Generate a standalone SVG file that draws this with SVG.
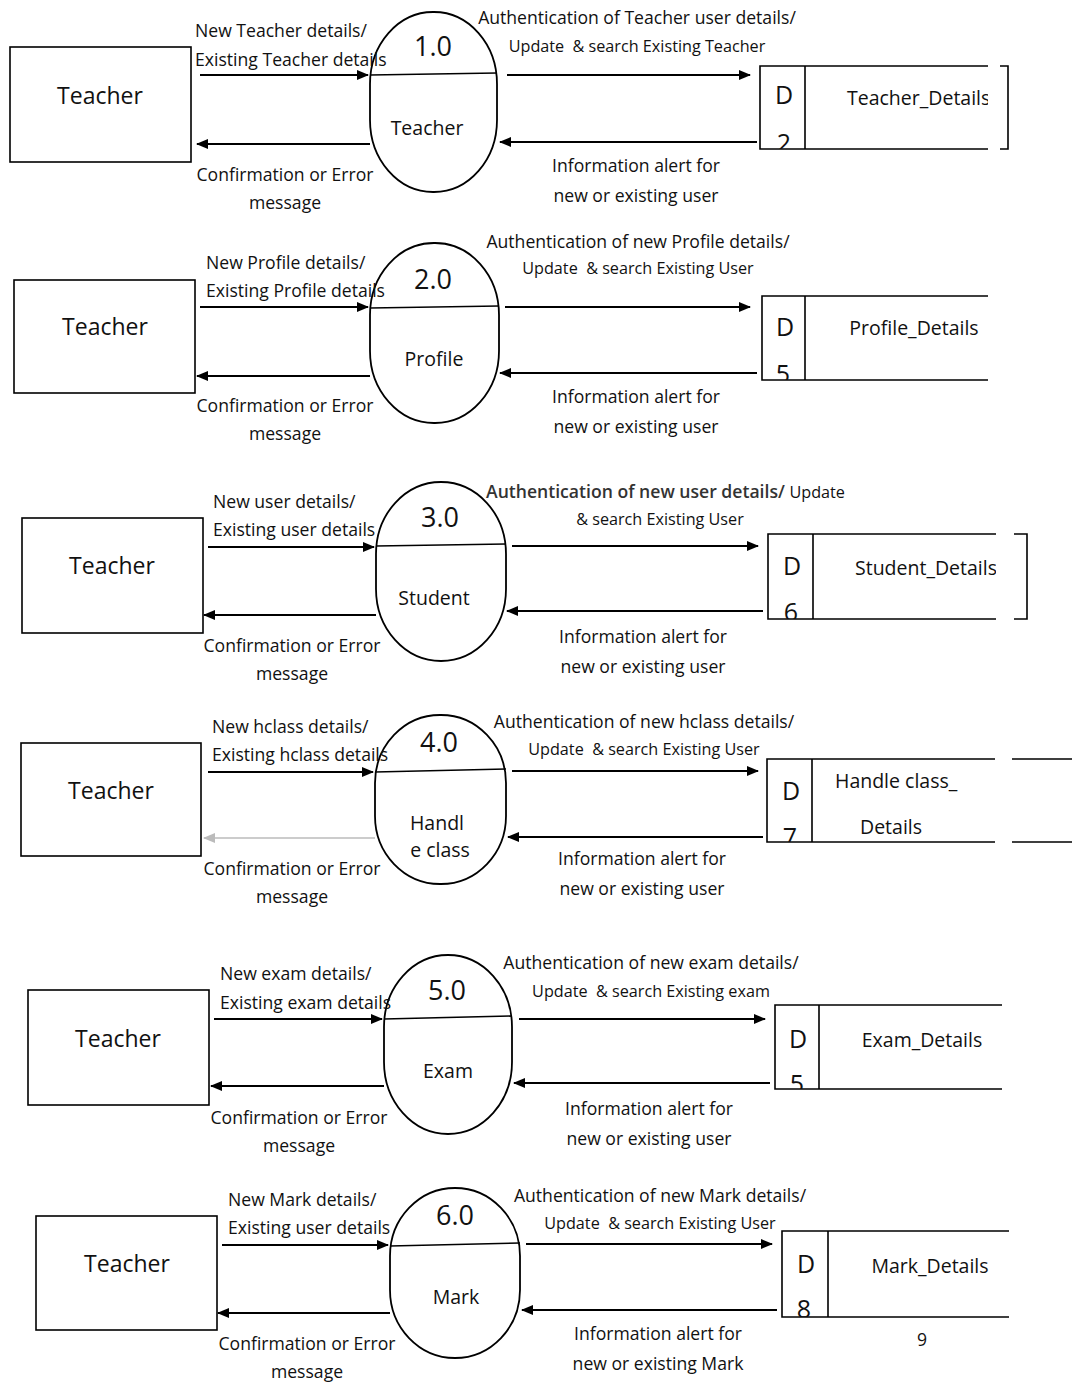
<svg xmlns="http://www.w3.org/2000/svg" width="1072" height="1382" viewBox="0 0 1072 1382">
<style>
text{font-family:"Open Sans",Lato,"Liberation Sans",sans-serif;fill:#111}
.ent{fill:#fff;stroke:#000;stroke-width:1.6}
.proc{fill:#fff;stroke:#000;stroke-width:1.8}
.ln{fill:none;stroke:#000;stroke-width:1.6}
.fl{fill:none;stroke:#000;stroke-width:1.8;marker-end:url(#ah)}
.faint{fill:none;stroke:#bbb;stroke-width:1.4;marker-end:url(#ahg)}
.en{font-size:23px;text-anchor:middle}
.lb{font-size:17.6px}
.lc{font-size:17.6px;text-anchor:middle}
.ls{font-size:16.2px;text-anchor:middle;white-space:pre}
.num{font-size:27px;text-anchor:middle}
.pn{font-size:19.5px;text-anchor:middle}
.d{font-size:25px;text-anchor:middle}
.sn{font-size:19.5px}
</style>
<defs>
<marker id="ah" markerWidth="12" markerHeight="10" refX="11" refY="5" orient="auto" markerUnits="userSpaceOnUse"><path d="M0,0 L12,5 L0,10 z" fill="#000"/></marker>
<marker id="ahg" markerWidth="12" markerHeight="10" refX="11" refY="5" orient="auto" markerUnits="userSpaceOnUse"><path d="M0,0 L12,5 L0,10 z" fill="#bbb"/></marker>
<clipPath id="c1"><rect x="760" y="60" width="228" height="89"/></clipPath>
<clipPath id="c2"><rect x="762" y="290" width="226" height="90"/></clipPath>
<clipPath id="c3"><rect x="768" y="528" width="228" height="91"/></clipPath>
<clipPath id="c4"><rect x="767" y="753" width="228" height="89"/></clipPath>
<clipPath id="c5"><rect x="775" y="999" width="227" height="90"/></clipPath>
<clipPath id="c6"><rect x="782" y="1225" width="227" height="92"/></clipPath>
</defs>

<!-- Section 1 -->
<g id="teacher1"><rect class="ent" x="10" y="47" width="181" height="115"/><text class="en" x="100" y="104">Teacher</text></g>
<g id="proc1"><rect class="proc" x="370" y="12" width="127" height="180" rx="63" ry="72"/><line class="ln" x1="370" y1="75" x2="497" y2="73"/><text class="num" x="433" y="56">1.0</text><text class="pn" x="427" y="135">Teacher</text></g>
<g id="store1"><path class="ln" d="M988,66 H760 V149 H988 M805,66 V149"/><g clip-path="url(#c1)"><text class="d" x="784" y="104">D</text><text class="d" x="784" y="152">2</text><text class="sn" x="847" y="105">Teacher_Details</text></g><path class="ln" d="M1000,66 H1008 V149 H1000"/></g>

<!-- Section 2 -->
<g id="teacher2"><rect class="ent" x="14" y="280" width="181" height="113"/><text class="en" x="105" y="335">Teacher</text></g>
<g id="proc2"><rect class="proc" x="370" y="243" width="129" height="180" rx="64" ry="72"/><line class="ln" x1="370" y1="308" x2="499" y2="306"/><text class="num" x="433" y="289">2.0</text><text class="pn" x="434" y="366">Profile</text></g>
<g id="store2"><path class="ln" d="M988,296 H762 V380 H988 M805,296 V380"/><g clip-path="url(#c2)"><text class="d" x="785" y="336">D</text><text class="d" x="783" y="383">5</text><text class="sn" x="914" y="335" text-anchor="middle">Profile_Details</text></g></g>

<!-- Section 3 -->
<g id="teacher3"><rect class="ent" x="22" y="518" width="181" height="115"/><text class="en" x="112" y="574">Teacher</text></g>
<g id="proc3"><rect class="proc" x="376" y="482" width="130" height="179" rx="65" ry="72"/><line class="ln" x1="376" y1="546" x2="506" y2="544"/><text class="num" x="440" y="527">3.0</text><text class="pn" x="434" y="605">Student</text></g>
<g id="store3"><path class="ln" d="M996,534 H768 V619 H996 M813,534 V619"/><g clip-path="url(#c3)"><text class="d" x="792" y="575">D</text><text class="d" x="791" y="621">6</text><text class="sn" x="855" y="575">Student_Details</text></g><path class="ln" d="M1014,534 H1027 V619 H1014"/></g>

<!-- Section 4 -->
<g id="teacher4"><rect class="ent" x="21" y="743" width="180" height="113"/><text class="en" x="111" y="799">Teacher</text></g>
<g id="proc4"><rect class="proc" x="375" y="715" width="131" height="169" rx="65" ry="68"/><line class="ln" x1="375" y1="772" x2="506" y2="769"/><text class="num" x="439" y="752">4.0</text><text class="pn" x="437" y="830">Handl</text><text class="pn" x="440" y="857">e class</text></g>
<g id="store4"><path class="ln" d="M995,759 H767 V842 H995 M812,759 V842 M1012,759 H1072 M1012,842 H1072"/><g clip-path="url(#c4)"><text class="d" x="791" y="800">D</text><text class="d" x="790" y="846">7</text><text class="sn" x="835" y="788">Handle class_</text><text class="sn" x="860" y="834">Details</text></g></g>

<!-- Section 5 -->
<g id="teacher5"><rect class="ent" x="28" y="990" width="181" height="115"/><text class="en" x="118" y="1047">Teacher</text></g>
<g id="proc5"><rect class="proc" x="384" y="955" width="128" height="179" rx="64" ry="72"/><line class="ln" x1="384" y1="1019" x2="512" y2="1016"/><text class="num" x="447" y="1000">5.0</text><text class="pn" x="448" y="1078">Exam</text></g>
<g id="store5"><path class="ln" d="M1002,1005 H775 V1089 H1002 M819,1005 V1089"/><g clip-path="url(#c5)"><text class="d" x="798" y="1048">D</text><text class="d" x="797" y="1093">5</text><text class="sn" x="922" y="1047" text-anchor="middle">Exam_Details</text></g></g>

<!-- Section 6 -->
<g id="teacher6"><rect class="ent" x="36" y="1216" width="181" height="114"/><text class="en" x="127" y="1272">Teacher</text></g>
<g id="proc6"><rect class="proc" x="390" y="1188" width="130" height="170" rx="65" ry="68"/><line class="ln" x1="390" y1="1246" x2="520" y2="1243"/><text class="num" x="455" y="1225">6.0</text><text class="pn" x="456" y="1304">Mark</text></g>
<g id="store6"><path class="ln" d="M1009,1231 H782 V1317 H1009 M828,1231 V1317"/><g clip-path="url(#c6)"><text class="d" x="806" y="1273">D</text><text class="d" x="804" y="1318">8</text><text class="sn" x="930" y="1273" text-anchor="middle">Mark_Details</text></g></g>

<g id="connectors">
<line class="fl" x1="200" y1="75" x2="368" y2="75"/>
<line class="fl" x1="370" y1="144" x2="197" y2="144"/>
<line class="fl" x1="507" y1="75" x2="750" y2="75"/>
<line class="fl" x1="757" y1="142" x2="500" y2="142"/>

<line class="fl" x1="200" y1="307" x2="368" y2="307"/>
<line class="fl" x1="370" y1="376" x2="197" y2="376"/>
<line class="fl" x1="505" y1="307" x2="750" y2="307"/>
<line class="fl" x1="757" y1="373" x2="500" y2="373"/>

<line class="fl" x1="208" y1="547" x2="374" y2="547"/>
<line class="fl" x1="376" y1="615" x2="204" y2="615"/>
<line class="fl" x1="512" y1="546" x2="758" y2="546"/>
<line class="fl" x1="763" y1="611" x2="507" y2="611"/>

<line class="fl" x1="208" y1="772" x2="373" y2="772"/>
<line class="faint" x1="375" y1="838" x2="204" y2="838"/>
<line class="fl" x1="512" y1="771" x2="758" y2="771"/>
<line class="fl" x1="763" y1="837" x2="508" y2="837"/>

<line class="fl" x1="214" y1="1019" x2="382" y2="1019"/>
<line class="fl" x1="384" y1="1086" x2="211" y2="1086"/>
<line class="fl" x1="519" y1="1019" x2="765" y2="1019"/>
<line class="fl" x1="770" y1="1083" x2="514" y2="1083"/>

<line class="fl" x1="222" y1="1245" x2="388" y2="1245"/>
<line class="fl" x1="390" y1="1313" x2="218" y2="1313"/>
<line class="fl" x1="526" y1="1244" x2="772" y2="1244"/>
<line class="fl" x1="777" y1="1310" x2="522" y2="1310"/>
</g>

<g id="labels">
<text class="lb" x="195" y="37">New Teacher details/</text>
<text class="lb" x="195" y="66">Existing Teacher details</text>
<text class="lc" x="285" y="181">Confirmation or Error</text>
<text class="lc" x="285" y="209">message</text>
<text class="lc" x="637" y="24">Authentication of Teacher user details/</text>
<text class="ls" x="637" y="52">Update  &amp; search Existing Teacher</text>
<text class="lc" x="636" y="172">Information alert for</text>
<text class="lc" x="636" y="202">new or existing user</text>

<text class="lb" x="206" y="269">New Profile details/</text>
<text class="lb" x="206" y="297">Existing Profile details</text>
<text class="lc" x="285" y="412">Confirmation or Error</text>
<text class="lc" x="285" y="440">message</text>
<text class="lc" x="638" y="248">Authentication of new Profile details/</text>
<text class="ls" x="638" y="274">Update  &amp; search Existing User</text>
<text class="lc" x="636" y="403">Information alert for</text>
<text class="lc" x="636" y="433">new or existing user</text>

<text class="lb" x="213" y="508">New user details/</text>
<text class="lb" x="213" y="536">Existing user details</text>
<text class="lc" x="292" y="652">Confirmation or Error</text>
<text class="lc" x="292" y="680">message</text>
<text class="lb" x="486" y="498"><tspan font-weight="600" fill="#333">Authentication of new user details/</tspan> <tspan font-size="16.2">Update</tspan></text>
<text class="ls" x="660" y="525">&amp; search Existing User</text>
<text class="lc" x="643" y="643">Information alert for</text>
<text class="lc" x="643" y="673">new or existing user</text>

<text class="lb" x="212" y="733">New hclass details/</text>
<text class="lb" x="212" y="761">Existing hclass details</text>
<text class="lc" x="292" y="875">Confirmation or Error</text>
<text class="lc" x="292" y="903">message</text>
<text class="lc" x="644" y="728">Authentication of new hclass details/</text>
<text class="ls" x="644" y="755">Update  &amp; search Existing User</text>
<text class="lc" x="642" y="865">Information alert for</text>
<text class="lc" x="642" y="895">new or existing user</text>

<text class="lb" x="220" y="980">New exam details/</text>
<text class="lb" x="220" y="1009">Existing exam details</text>
<text class="lc" x="299" y="1124">Confirmation or Error</text>
<text class="lc" x="299" y="1152">message</text>
<text class="lc" x="651" y="969">Authentication of new exam details/</text>
<text class="ls" x="651" y="997">Update  &amp; search Existing exam</text>
<text class="lc" x="649" y="1115">Information alert for</text>
<text class="lc" x="649" y="1145">new or existing user</text>

<text class="lb" x="228" y="1206">New Mark details/</text>
<text class="lb" x="228" y="1234">Existing user details</text>
<text class="lc" x="307" y="1350">Confirmation or Error</text>
<text class="lc" x="307" y="1378">message</text>
<text class="lc" x="660" y="1202">Authentication of new Mark details/</text>
<text class="ls" x="660" y="1229">Update  &amp; search Existing User</text>
<text class="lc" x="658" y="1340">Information alert for</text>
<text class="lc" x="658" y="1370">new or existing Mark</text>
<text class="lc" x="922" y="1346">9</text>
</g>
</svg>
